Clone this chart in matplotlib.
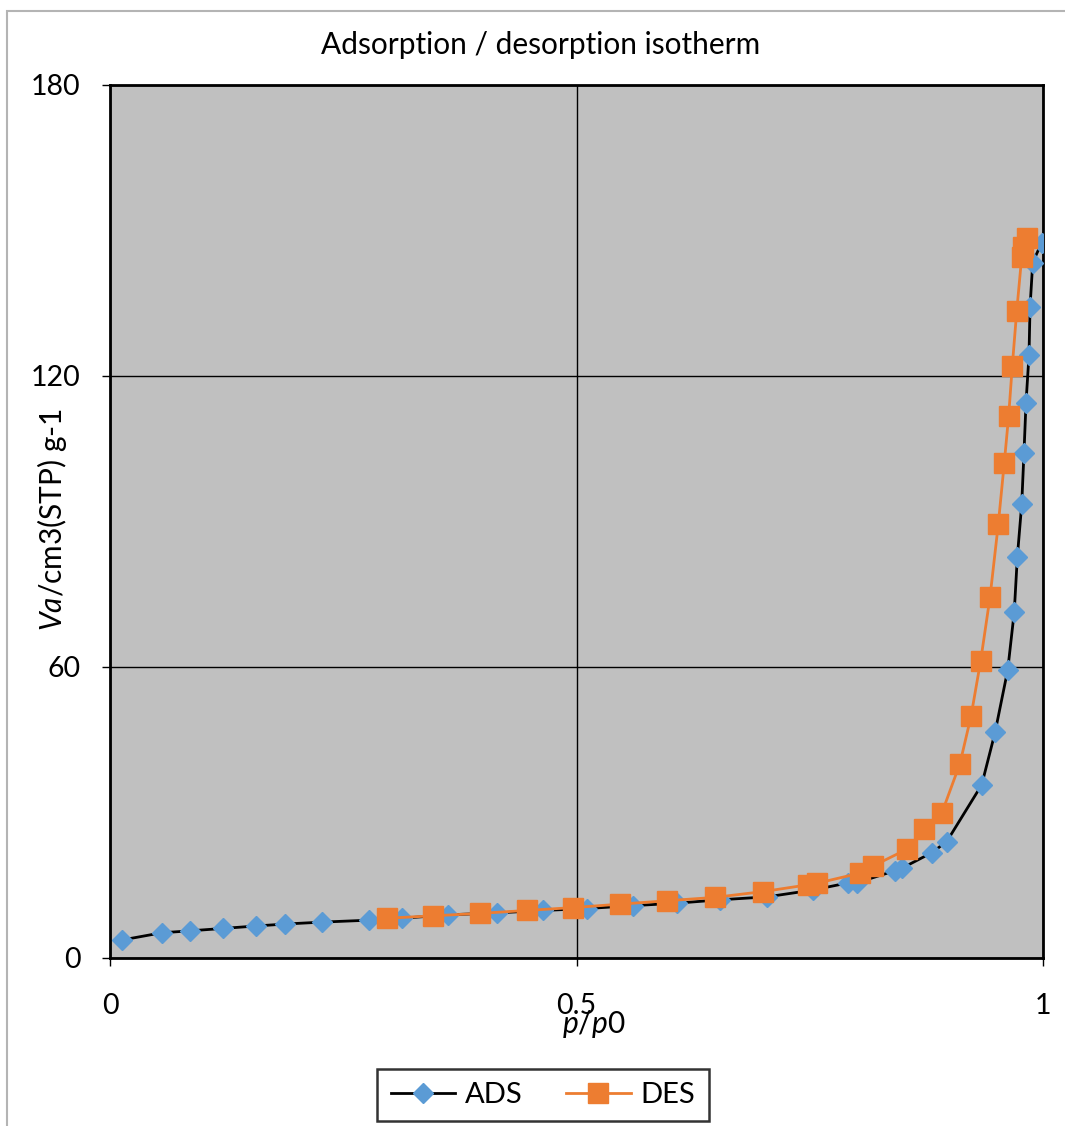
import matplotlib
matplotlib.use("Agg")
import matplotlib.pyplot as plt
from matplotlib.patches import Rectangle

plt.rcParams["font.family"] = ["Lato", "DejaVu Sans"]
plt.rcParams["mathtext.fontset"] = "custom"
plt.rcParams["mathtext.rm"] = "Lato"
plt.rcParams["mathtext.it"] = "Lato:italic"

# Adsorption branch (relative pressure, adsorbed volume)
ads_p = [0.0125, 0.0554, 0.0857, 0.1214, 0.1565, 0.1876, 0.2272, 0.2776, 0.3127,
         0.3626, 0.4145, 0.4644, 0.5109, 0.5609, 0.6074, 0.6538, 0.7039, 0.7530,
         0.7913, 0.8003, 0.8414, 0.8486, 0.8807, 0.8968, 0.9343, 0.9486, 0.9622,
         0.9692, 0.9725, 0.9772, 0.9796, 0.9818, 0.9850, 0.9861, 0.9890, 0.9986]
ads_v = [3.7, 5.2, 5.6, 6.1, 6.6, 7.0, 7.4, 7.8, 8.2,
         8.9, 9.3, 9.8, 10.2, 10.8, 11.3, 12.0, 12.6, 14.0,
         15.5, 15.5, 18.0, 18.5, 21.7, 24.0, 35.7, 46.5, 59.4,
         71.4, 82.7, 93.6, 104.1, 114.5, 124.3, 134.2, 143.4, 147.5]

# Desorption branch
des_p = [0.9825, 0.9789, 0.9772, 0.9718, 0.9671, 0.9632, 0.9585, 0.9521, 0.9432,
         0.9332, 0.9228, 0.9110, 0.8914, 0.8724, 0.8539, 0.8181, 0.8039, 0.7574,
         0.7484, 0.7002, 0.6484, 0.5966, 0.5466, 0.4966, 0.4466, 0.3966, 0.3465,
         0.2966]
des_v = [148.4, 146.7, 144.6, 133.3, 122.1, 111.8, 102.1, 89.5, 74.4,
         61.3, 49.8, 40.1, 29.8, 26.5, 22.4, 19.0, 17.5, 15.4,
         15.1, 13.7, 12.5, 11.8, 11.1, 10.4, 9.8, 9.2, 8.7,
         8.2]

W, H = 1065, 1126
fig = plt.figure(figsize=(W / 100, H / 100), dpi=100)

# outer chart border (runs off the right/bottom edges)
fig.patches.append(Rectangle((7 / W, -0.1), 1.2, 1 - 11 / H + 0.1,
                             transform=fig.transFigure, fill=False,
                             edgecolor="#B4B4B4", lw=1.5))

ax = fig.add_axes([110 / W, 1 - 958 / H, 933 / W, 873 / H])
ax.set_facecolor("#C0C0C0")

ax.plot(ads_p, ads_v, color="black", lw=2, marker="D", markersize=10,
        markerfacecolor="#5B9BD5", markeredgecolor="#5B9BD5", label="ADS", zorder=3)
ax.plot(des_p, des_v, color="#ED7D31", lw=2, marker="s", markersize=14,
        markerfacecolor="#ED7D31", markeredgecolor="#ED7D31", label="DES", zorder=4)

ax.set_xlim(0, 1)
ax.set_ylim(0, 180)
ax.set_xticks([0, 0.5, 1])
ax.set_xticklabels(["0", "0.5", "1"])
ax.set_yticks([0, 60, 120, 180])
ax.grid(True, color="black", lw=1.0)
ax.set_axisbelow(True)
for s in ax.spines.values():
    s.set_linewidth(2)
    s.set_color("black")
ax.tick_params(axis="both", direction="out", length=6, width=1, labelsize=20.5)
ax.tick_params(axis="x", pad=19)
ax.tick_params(axis="y", pad=15)

fig.text(541 / W, 1 - 45 / H, "Adsorption / desorption isotherm",
         ha="center", va="center", fontsize=21.5)
fig.text(594 / W, 1 - 1024 / H, r"$\mathit{p}$/$\mathit{p}$0",
         ha="center", va="center", fontsize=21.5)
fig.text(52 / W, 1 - 519 / H, r"$\mathit{Va}$/cm3(STP) g-1",
         ha="center", va="center", rotation=90, fontsize=21.5)

leg = fig.legend(loc="center", bbox_to_anchor=(543 / W, 1 - 1095 / H), ncol=2,
                 fontsize=21, frameon=True, fancybox=False, handlelength=2.2,
                 columnspacing=1.5, borderpad=0.45, handletextpad=0.35)
leg.get_frame().set_edgecolor("black")
leg.get_frame().set_linewidth(1.8)

fig.savefig("out.png", dpi=100)
